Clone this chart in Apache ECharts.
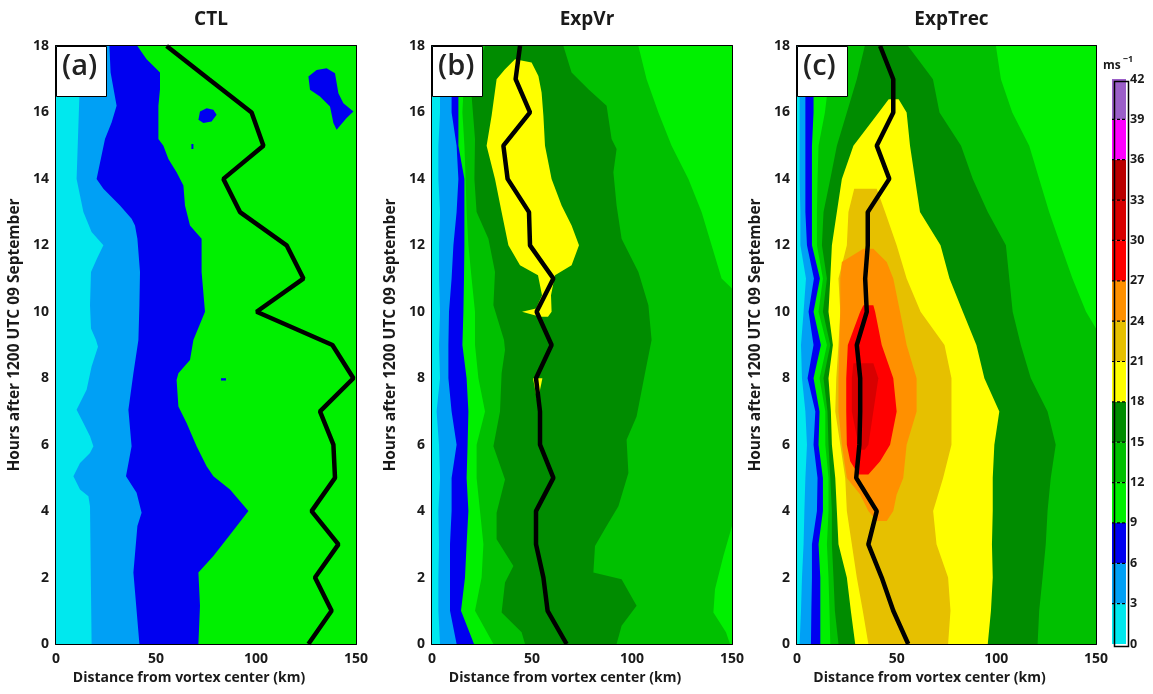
<!DOCTYPE html>
<html>
<head>
<meta charset="utf-8">
<script src="https://cdn.jsdelivr.net/npm/echarts@6.0.0/dist/echarts.min.js"></script>
<style>html,body{margin:0;padding:0;background:#fff}#main{width:1153px;height:694px}</style>
</head>
<body>
<div id="main"></div>
<script>
var chartDom = document.getElementById('main');
var myChart = echarts.init(chartDom);

// contour levels (m/s) and their fill colours
var levels = [0, 3, 6, 9, 12, 15, 18, 21, 24, 27, 30, 33, 36, 39, 42];
var levelColors = ['#00E8EE', '#00A0F5', '#0000F0', '#00F000', '#00C000', '#008C00', '#FFFF00',
  '#E6C000', '#FF9000', '#FF0000', '#D80000', '#BA0000', '#FF00FF', '#9B5FC8'];

var hours = [0, 1, 2, 3, 4, 5, 6, 7, 8, 9, 10, 11, 12, 13, 14, 15, 16, 17, 18];

// radius of max wind (black line), one value per hour
var rmwCTL = [126.2, 137.8, 129.5, 141.2, 127.8, 139.5, 138.7, 132, 148.7, 138.2, 100.3, 123.7, 115.3, 92, 83.7, 103.7, 97.8, 76.5, 55.3];
var rmwVr = [67.3, 57.8, 55.7, 52, 52, 60.7, 54, 54, 52, 59.8, 52.3, 60.7, 49, 48.5, 37.8, 35.7, 49, 41.8, 44];
var rmwTrec = [55.8, 48.3, 42.5, 35.8, 40, 29.7, 31.3, 31.7, 31.7, 30, 35, 34.2, 35.5, 35.5, 46.3, 40, 48.3, 48.3, 41.7];

// contour edges: [hour, km]
var edgeLeft = [[0, 0], [18, 0]];
var edgeRight = [[0, 150], [18, 150]];

// CTL
var ctl3Left = [[0, 17.8], [4.15, 17], [4.45, 16.2], [4.65, 12], [5.05, 8.7], [5.45, 12], [5.75, 17], [5.95, 18.7], [6.25, 17], [6.65, 13.7], [7.05, 10.3], [7.65, 15.3], [8.35, 17.8], [8.95, 21], [9.15, 20], [9.5, 17.5], [10.2, 17], [11.2, 17.5], [11.6, 20.5], [12, 23.7], [12.4, 17.8], [13, 13.7], [14, 10.3], [16.5, 11.7], [18, 12]];
var ctl6Left = [[0, 41.7], [2.15, 38.7], [3.55, 40.7], [3.95, 42.8], [4.55, 40.3], [5.05, 35], [5.95, 37.8], [7.05, 36.2], [8.15, 38.7], [9.15, 41.2], [10.2, 41.7], [11.2, 42], [12.2, 40.7], [12.6, 39.5], [12.8, 37.8], [13.2, 32], [13.7, 23.7], [14, 20.3], [15.2, 24.5], [15.7, 27.8], [16.2, 30.3], [17.2, 27.3], [18, 26.7]];
var ctl9Left = [[0, 71.2], [1.15, 72], [2.15, 71.2], [2.65, 78.7], [3.35, 87.8], [4, 96.2], [4.65, 87], [5.05, 78.7], [5.35, 75.3], [5.95, 70.3], [6.65, 65.3], [7.15, 61.2], [7.95, 60.3], [8.15, 61.2], [8.55, 67], [9.15, 68.7], [10, 74.5], [11.2, 72.8], [12.2, 72.8], [12.6, 67], [13.2, 64.5], [13.8, 63.7], [14.2, 60.3], [14.6, 56.2], [15, 53.7], [15.2, 51.2], [16.2, 51.2], [16.7, 52], [17.2, 52], [17.6, 45.3], [18, 40.7]];
// blue patches inside the green: [km, hour]
var ctlBlob1 = [[126.2, 17.08], [130.3, 17.28], [135.3, 17.33], [139.5, 17.18], [141.2, 16.58], [143.7, 16.28], [148.7, 16.03], [145.3, 15.83], [140.3, 15.48], [138.7, 15.68], [137, 16.18], [132, 16.48], [127, 16.68]];
var ctlBlob2 = [[72, 16.03], [75.3, 16.13], [78.7, 16.08], [80.3, 15.93], [77.8, 15.73], [73.7, 15.68], [71.2, 15.78]];
var ctlBlob3 = [[67.7, 15.05], [68.7, 15.05], [68.7, 14.9], [67.7, 14.9]];
var ctlBlob4 = [[82.5, 8.0], [85, 8.0], [85, 7.93], [82.5, 7.93]];

// ExpVr
var vr3Left = [[0, 4], [1, 3.2], [2, 3.2], [3, 3.5], [4, 3.2], [5, 4], [6, 3.5], [7, 2.3], [8, 4], [9, 3.5], [10, 4], [11, 3.5], [12, 3.5], [13, 4], [14, 3.2], [15, 3.2], [16, 4], [17, 4], [18, 4]];
var vr6Left = [[0, 12.3], [1, 9], [2, 9], [3, 9], [4, 9.8], [5, 9.8], [6, 12.3], [7, 9.8], [8, 8.2], [9, 8.2], [10, 8.5], [11, 9.8], [12, 10.7], [13, 12.3], [14, 13.2], [15, 12.3], [16, 9.8], [17, 9.8], [18, 9.8]];
var vr9Left = [[0, 21], [1, 14.5], [2, 16.5], [3, 17.3], [4, 18.2], [5, 17.3], [6, 17.8], [7, 18.2], [8, 17.3], [9, 15.2], [10, 15.7], [11, 16], [12, 16.2], [13, 16.2], [14, 16.2], [15, 13.2], [16, 13.2], [17, 13.2], [18, 13.2]];
var vr12Left = [[0, 30.7], [1, 21.5], [2, 24.8], [3, 25.7], [4, 24], [5, 22.3], [6, 22.3], [7, 26.5], [8, 23.2], [9, 21.5], [10, 21.5], [11, 19.8], [12, 18.2], [13, 17.3], [14, 16.8], [15, 16.2], [16, 15.2], [17, 16], [18, 18]];
var vr12Right = [[0, 149], [0.35, 147], [0.95, 140.7], [1.65, 141.5], [2.65, 145.7], [3.55, 150], [10.7, 150], [11, 144.8], [12, 139.8], [13, 134.8], [14, 128.2], [15, 119.8], [16, 113.2], [17, 107.3], [18, 103.2]];
var vr15Left = [[0, 46.5], [0.35, 44.8], [0.95, 34.8], [1.85, 36.5], [2.35, 40.7], [3.15, 32.3], [3.95, 32.3], [4.95, 36.5], [5.95, 30.7], [7, 34], [8.15, 34.8], [8.85, 36.5], [9.15, 36], [10.2, 30.7], [11.2, 31.5], [12.2, 28.2], [13, 22.3], [14, 21.2], [15.2, 21.5], [16.5, 19.8], [17.3, 21.5], [18, 26.5]];
var vr15Right = [[0, 92.3], [0.55, 94.8], [1.15, 102.3], [1.95, 94.8], [2.15, 80.7], [2.95, 81.5], [3.55, 87.3], [4.15, 93.2], [5.15, 98.2], [6.15, 97.3], [6.85, 102.3], [8.15, 106.5], [9.15, 109.8], [10.2, 108.2], [11.2, 103.2], [12.2, 94.8], [13.2, 92.3], [14.2, 90.7], [14.9, 92.3], [15.2, 89.8], [16.2, 87.3], [16.7, 78.2], [17.2, 69.8], [18, 65.7]];
var vr18Left = [[9.85, 54], [10, 45], [10.1, 52], [10.5, 55], [11.1, 53], [11.4, 44], [12, 38.2], [13, 34.8], [14, 31.5], [15, 27.3], [15.9, 29.8], [17, 32.3], [17.3, 36.5], [17.6, 41.5]];
var vr18Right = [[9.85, 58], [10, 59.8], [10.5, 59.5], [11.1, 61.5], [11.4, 69.8], [12, 73.5], [12.6, 69.8], [13.2, 64.8], [14, 59.8], [15, 56.5], [15.9, 55.7], [16.6, 54.8], [17.1, 53.2], [17.5, 49.8], [17.6, 41.5]];
var vr18bLeft = [[7.35, 52.5], [8, 50.5]];
var vr18bRight = [[7.35, 53], [8, 55.2]];

// ExpTrec
var tr3Left = [[0, 1.3], [1, 2], [2, 2.5], [3, 3.3], [4, 3.7], [5, 4.2], [6, 5], [7, 4.2], [8, 2.5], [9, 2], [10, 3.3], [11, 4.5], [12, 1.7], [13, 1.7], [14, 1.3], [15, 1.3], [16, 1.3], [17, 1.3], [18, 1.3]];
var tr6Left = [[0, 7], [1, 7.2], [2, 7.5], [3, 7.5], [4, 10], [5, 10.3], [6, 8.3], [7, 9.2], [8, 5.3], [9, 8.3], [10, 5.8], [11, 8.5], [12, 5], [13, 4.2], [14, 4.2], [15, 4.2], [16, 4.2], [17, 4.2], [18, 4.2]];
var tr9Left = [[0, 11.7], [1, 11.7], [2, 11.7], [3, 10.8], [4, 13], [5, 13], [6, 10.8], [7, 11.3], [8, 8.3], [9, 12], [10, 8.3], [11, 11.5], [12, 7.5], [13, 7.5], [14, 7.5], [15, 7.5], [16, 8.3], [17, 8.3], [18, 8.3]];
var tr12Left = [[0, 16.7], [1, 16.3], [2, 15.8], [3, 15], [4, 15.8], [5, 15.8], [6, 14.2], [7, 14.2], [8, 11.3], [9, 15], [10, 10.8], [11, 13], [12, 10], [13, 10], [14, 10.3], [15, 10.8], [16, 14], [17, 16], [18, 18]];
var tr12Right = [[0, 150], [9.5, 150], [10, 145], [11, 138.2], [12, 132.3], [13, 126.5], [14, 121.5], [15, 116.5], [16, 108], [17, 102.3], [18, 99.8]];
var tr15Left = [[0, 20.8], [1, 19], [2, 18.3], [3, 17.5], [4, 17.5], [5, 16.7], [6, 15.8], [7, 15.3], [8, 13.3], [9, 16.7], [10, 13], [11, 15], [12, 12.5], [13, 13.3], [14, 16.7], [15, 20], [16, 25], [17, 30], [18, 34]];
var tr15Right = [[0, 120.7], [1, 121.5], [2, 123.2], [3, 124.8], [4, 125.7], [5, 127.3], [6, 129.8], [7, 125.7], [8, 117.3], [9, 112.3], [10, 108.2], [11, 106.5], [12, 104.8], [13, 95.7], [14, 88.2], [15, 82.3], [16, 71.5], [17, 68.2], [18, 55.7]];
var tr18Left = [[0, 29.2], [1, 27], [2, 25], [3, 20.8], [4, 20], [5, 19.2], [6, 17.5], [7, 17], [8, 15.8], [9, 18], [10, 15.8], [11, 16.7], [12, 17.5], [13, 20], [14, 22.5], [15, 28.3], [16, 41], [16.4, 46]];
var tr18Right = [[0, 95.7], [1, 97.3], [2, 98.2], [3, 97.8], [4, 98.2], [5, 98.2], [6, 99], [7, 101.5], [8, 94], [9, 90], [10, 83.2], [11, 76.5], [12, 72], [13, 61.7], [14, 59.2], [15, 56.7], [16, 55], [16.4, 51]];
var tr21Left = [[0, 35.8], [1, 33], [2, 30], [3, 27.5], [4, 25], [5, 24.2], [6, 21.7], [7, 19.2], [8, 19.7], [9, 20.8], [10, 21.7], [11, 20.8], [12, 25], [13, 25.8], [13.7, 28.7]];
var tr21Right = [[0, 75.8], [1, 77], [2, 75.8], [3, 70], [4, 68.3], [5, 73.3], [6, 77.5], [7, 77.5], [8, 77.5], [9, 74], [10, 62], [11, 55], [12, 50], [13, 44.2], [13.7, 40]];
var tr24Left = [[3.7, 40], [4, 35.8], [4.5, 31.7], [5, 25], [6, 22.5], [7, 20.8], [8, 20.8], [9, 21.3], [10, 21.7], [11, 21.7], [11.5, 22.5], [11.9, 33.3]];
var tr24Right = [[3.7, 45], [4, 48.3], [4.5, 50], [5, 53.3], [6, 55], [7, 60], [8, 60], [9, 55], [10, 51.7], [11, 48.3], [11.5, 45], [11.9, 38.3]];
var tr27Left = [[5.1, 30.8], [5.5, 26.7], [6, 25], [7, 24.7], [8, 24.7], [9, 25.5], [10, 31.7], [10.2, 33.3]];
var tr27Right = [[5.1, 35.8], [5.5, 41.7], [6, 46.7], [7, 50], [8, 48.3], [9, 42.5], [10, 39.2], [10.2, 38.3]];
var tr30Left = [[5.85, 32], [6, 30.8], [7, 27.5], [8, 27.5], [8.45, 28.3]];
var tr30Right = [[5.85, 34], [6, 35.8], [7, 38.3], [8, 40.8], [8.45, 38.3]];

var panels = [
  {title: 'CTL', tag: '(a)', left: 56, width: 300, rmw: rmwCTL, regions: [
    {level: 0, left: edgeLeft, right: edgeRight},
    {level: 1, left: ctl3Left, right: edgeRight},
    {level: 2, left: ctl6Left, right: edgeRight},
    {level: 3, left: ctl9Left, right: edgeRight},
    {level: 2, poly: ctlBlob1}, {level: 2, poly: ctlBlob2},
    {level: 2, poly: ctlBlob3}, {level: 2, poly: ctlBlob4}
  ]},
  {title: 'ExpVr', tag: '(b)', left: 432, width: 300, rmw: rmwVr, regions: [
    {level: 0, left: edgeLeft, right: edgeRight},
    {level: 1, left: vr3Left, right: edgeRight},
    {level: 2, left: vr6Left, right: edgeRight},
    {level: 3, left: vr9Left, right: edgeRight},
    {level: 4, left: vr12Left, right: vr12Right},
    {level: 5, left: vr15Left, right: vr15Right},
    {level: 6, left: vr18Left, right: vr18Right},
    {level: 6, left: vr18bLeft, right: vr18bRight}
  ]},
  {title: 'ExpTrec', tag: '(c)', left: 797, width: 299, rmw: rmwTrec, regions: [
    {level: 0, left: edgeLeft, right: edgeRight},
    {level: 1, left: tr3Left, right: edgeRight},
    {level: 2, left: tr6Left, right: edgeRight},
    {level: 3, left: tr9Left, right: edgeRight},
    {level: 4, left: tr12Left, right: tr12Right},
    {level: 5, left: tr15Left, right: tr15Right},
    {level: 6, left: tr18Left, right: tr18Right},
    {level: 7, left: tr21Left, right: tr21Right},
    {level: 8, left: tr24Left, right: tr24Right},
    {level: 9, left: tr27Left, right: tr27Right},
    {level: 10, left: tr30Left, right: tr30Right}
  ]}
];

var font = 'Open Sans';
var txt = '#1a1a1a';
var top0 = 46, h0 = 598;
var grids = [], xAxes = [], yAxes = [], series = [], titles = [], graphics = [];

panels.forEach(function (p, i) {
  grids.push({left: p.left, top: top0, width: p.width, height: h0});
  var axLine = {show: true, onZero: false, lineStyle: {color: '#000', width: 2}};
  var tick = {show: true, inside: true, length: 6, lineStyle: {color: '#000', width: 1.5}};
  xAxes.push({
    type: 'value', gridIndex: i, min: 0, max: 150, interval: 50, position: 'bottom',
    axisLine: axLine, axisTick: tick, splitLine: {show: false},
    axisLabel: {color: txt, fontSize: 14, fontWeight: 'bold', fontFamily: font, margin: 8},
    name: 'Distance from vortex center (km)', nameLocation: 'middle', nameGap: 25,
    nameTextStyle: {color: txt, fontSize: 14, fontWeight: 'bold', fontFamily: font, padding: [0, 34, 0, 0]}
  });
  xAxes.push({
    type: 'value', gridIndex: i, min: 0, max: 150, interval: 50, position: 'top',
    axisLine: axLine, axisTick: tick, splitLine: {show: false}, axisLabel: {show: false}
  });
  yAxes.push({
    type: 'value', gridIndex: i, min: 0, max: 18, interval: 2, position: 'left',
    axisLine: axLine, axisTick: tick, splitLine: {show: false},
    axisLabel: {color: txt, fontSize: 14, fontWeight: 'bold', fontFamily: font, margin: 7},
    name: 'Hours after 1200 UTC 09 September', nameLocation: 'middle', nameGap: 33, nameRotate: 90,
    nameTextStyle: {color: txt, fontSize: 15.5, fontWeight: 'bold', fontFamily: font, padding: [0, 0, 0, 20]}
  });
  yAxes.push({
    type: 'value', gridIndex: i, min: 0, max: 18, interval: 2, position: 'right',
    axisLine: axLine, axisTick: tick, splitLine: {show: false}, axisLabel: {show: false}
  });

  series.push({
    type: 'custom', xAxisIndex: 2 * i, yAxisIndex: 2 * i, clip: true, silent: true, z: 1,
    data: p.regions.map(function (r, k) { return [k, r.level]; }),
    renderItem: function (params, api) {
      var r = p.regions[params.dataIndex];
      var pts = [];
      if (r.poly) {
        r.poly.forEach(function (q) { pts.push(api.coord([q[0], q[1]])); });
      } else {
        r.left.forEach(function (q) { pts.push(api.coord([q[1], q[0]])); });
        r.right.slice().reverse().forEach(function (q) { pts.push(api.coord([q[1], q[0]])); });
      }
      return {type: 'polygon', shape: {points: pts}, style: {fill: levelColors[r.level]}};
    }
  });
  series.push({
    type: 'line', xAxisIndex: 2 * i, yAxisIndex: 2 * i, z: 5, silent: true,
    symbol: 'none', lineStyle: {color: '#000', width: 4.5},
    data: hours.map(function (hr, k) { return [p.rmw[k], hr]; })
  });

  titles.push({
    text: p.title, left: p.left + p.width / 2, top: 5, textAlign: 'center',
    textStyle: {color: txt, fontSize: 19, fontWeight: 'bold', fontFamily: font}
  });
  graphics.push({
    type: 'rect', left: p.left, top: top0, z: 20,
    shape: {width: 50, height: 50},
    style: {fill: '#fff', stroke: '#000', lineWidth: 1}
  });
  graphics.push({
    type: 'text', left: p.left + 6, top: top0 + 6, z: 21,
    style: {text: p.tag, fill: '#222', font: '600 29px "Open Sans"'}
  });
});

// colour bar
var cb = 3;
grids.push({left: 1112, top: 79, width: 14, height: 565});
xAxes.push({type: 'value', gridIndex: cb, min: 0, max: 1, show: false});
yAxes.push({
  type: 'value', gridIndex: cb, min: 0, max: 42, interval: 3, position: 'right',
  axisLine: {show: false}, axisTick: {show: false}, splitLine: {show: false},
  axisLabel: {color: txt, fontSize: 12.5, fontWeight: 'bold', fontFamily: font, margin: 4}
});
series.push({
  type: 'custom', xAxisIndex: 6, yAxisIndex: 6, silent: true,
  data: levelColors.map(function (c, k) { return [0, levels[k]]; }),
  renderItem: function (params, api) {
    var k = params.dataIndex;
    var p0 = api.coord([0, levels[k]]);
    var p1 = api.coord([1, levels[k + 1]]);
    var children = [{
      type: 'rect', shape: {x: p0[0], y: p1[1], width: p1[0] - p0[0], height: p0[1] - p1[1]},
      style: {fill: levelColors[k]}
    }];
    if (k > 0) {
      children.push({
        type: 'line', shape: {x1: p0[0], y1: p0[1], x2: p1[0], y2: p0[1]},
        style: {stroke: '#000', lineWidth: 1.2, lineDash: [3, 2]}
      });
    }
    return {type: 'group', children: children};
  }
});
graphics.push({
  type: 'rect', left: 1112, top: 79, z: 10, silent: true,
  shape: {width: 14, height: 565},
  style: {fill: 'none', stroke: '#000', lineWidth: 1.5}
});
graphics.push({
  type: 'text', left: 1103, top: 55, z: 10,
  style: {
    text: '{a|ms}{b|\u22121}',
    rich: {
      a: {fontSize: 12, fontWeight: 'bold', fontFamily: font, fill: txt, verticalAlign: 'bottom'},
      b: {fontSize: 9, fontWeight: 'bold', fontFamily: font, fill: txt, verticalAlign: 'top', padding: [0, 0, 8, 2]}
    }
  }
});

var option = {
  animation: false,
  textStyle: {fontFamily: font},
  title: titles,
  grid: grids,
  xAxis: xAxes,
  yAxis: yAxes,
  series: series,
  graphic: graphics
};
option && myChart.setOption(option);
</script>
</body>
</html>
